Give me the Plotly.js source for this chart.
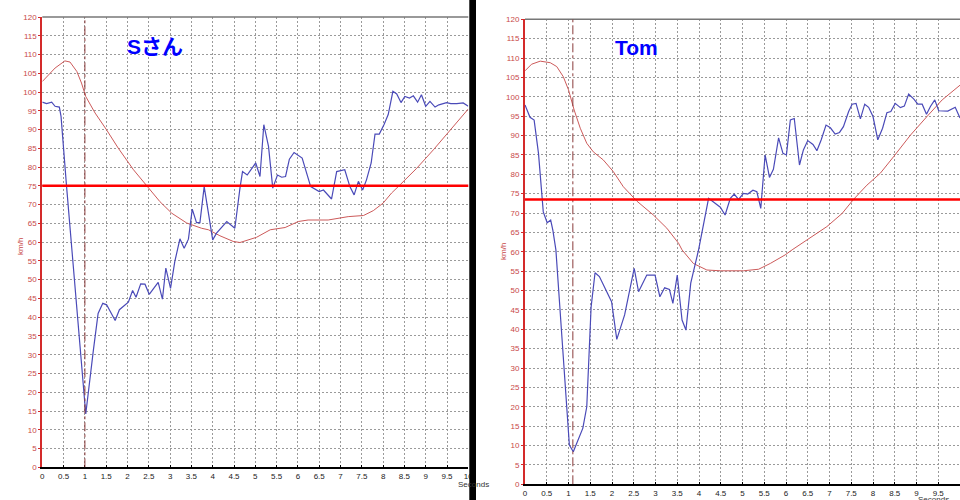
<!DOCTYPE html>
<html>
<head>
<meta charset="utf-8">
<script src="https://cdn.plot.ly/plotly-3.0.1.min.js"></script>
<style>html,body{margin:0;padding:0;background:#fff;}#chart{width:960px;height:500px;}</style>
</head>
<body>
<div id="chart"></div>
<script>
// ---- Data ----
const panelTitles = ["Sさん", "Tom"];

const sanTime = [0,0.1,0.22,0.3,0.4,0.44,0.57,0.69,0.885,1.02,1.2,1.31,1.42,1.51,1.71,1.81,2.02,2.12,2.2,2.31,2.41,2.51,2.72,2.82,2.9,3.01,3.11,3.23,3.33,3.43,3.52,3.62,3.7,3.8,4.0,4.09,4.33,4.52,4.64,4.7,4.81,5.01,5.11,5.2,5.31,5.41,5.52,5.62,5.71,5.8,5.91,6.1,6.3,6.5,6.6,6.79,6.91,7.1,7.22,7.32,7.42,7.52,7.61,7.72,7.81,7.91,8.02,8.12,8.23,8.32,8.42,8.51,8.62,8.71,8.81,8.9,9.0,9.1,9.22,9.31,9.49,9.59,9.73,9.88,10];
const sanSpeed = [97.3,96.9,97.3,96.2,96.0,93.5,74.8,58,31.3,14.2,31.3,41,43.7,43.3,39.1,42,44,47.1,45.3,48.9,48.8,46.1,49.3,44.8,53.1,47.7,54.8,60.9,58.4,60.8,68.8,65.2,65.2,74.8,60.6,62.4,65.5,63.7,74.4,78.8,77.9,81.1,77.5,91.3,85.5,74.4,77.9,77.3,77.5,82.1,83.9,82.4,74.8,73.5,73.9,71.5,78.8,79.3,74.8,72.6,76.2,73.9,76.6,81.1,88.8,88.8,91.3,94,100.2,99.5,97.2,98.8,98.4,99,97.3,99.3,96.2,97.5,96,96.6,97.2,96.9,96.9,97.1,96.2];

const sanRefTime = [0,0.3,0.53,0.65,0.81,0.92,1.02,1.24,1.51,1.78,2.14,2.49,2.76,3.04,3.39,3.74,3.9,4.17,4.48,4.64,5.03,5.35,5.7,6.01,6.24,6.71,7.18,7.54,7.77,8.0,8.2,8.4,8.79,9.18,9.57,10];
const sanRefSpeed = [102.8,106.4,108.3,108,105.5,102.4,98.8,94.4,89.9,85.1,79.3,74.4,70.8,67.7,65.1,63.7,63.3,61.7,60.2,59.9,61.3,63.3,63.9,65.5,65.9,65.9,66.8,67.1,68.4,70.4,73.1,75.3,79.7,84.6,89.7,95.5];

const tomTime = [0,0.115,0.21,0.31,0.42,0.51,0.59,0.64,0.71,1.02,1.11,1.33,1.42,1.52,1.61,1.71,1.99,2.11,2.29,2.51,2.61,2.8,2.99,3.1,3.21,3.32,3.4,3.5,3.61,3.7,3.81,3.91,3.99,4.22,4.49,4.6,4.72,4.81,4.91,5.02,5.12,5.24,5.33,5.42,5.52,5.62,5.71,5.83,5.93,6.01,6.1,6.19,6.31,6.4,6.5,6.62,6.71,6.81,6.92,7.02,7.13,7.23,7.32,7.44,7.52,7.61,7.71,7.81,7.9,8.0,8.11,8.22,8.32,8.41,8.51,8.63,8.72,8.82,8.94,9.03,9.13,9.23,9.32,9.42,9.51,9.72,9.89,10];
const tomSpeed = [97.9,94.7,94,85.4,70.3,67.5,68.2,65.6,60.5,10.1,8.4,14.5,20,45.8,54.6,53.6,47.1,37.4,43.7,55.7,49.7,54,54,48.4,50.7,50.3,46.7,54,42.4,39.8,51.9,56.6,60.5,73.8,71.5,69.5,73.8,74.9,73.5,75.1,74.9,75.9,75.5,71.2,85,79.2,81.3,89.4,85.4,85,94,94.4,82.4,86.3,88.7,87.7,86.1,88.9,92.7,92,90.4,90.8,92.3,96.2,98.1,98.3,94.3,98.1,97.3,94.9,88.9,91.9,95.9,96.2,98.3,97.2,97.6,100.7,99.4,98.1,98.1,95.5,97.5,99.2,96.4,96.3,97.3,94.5];

const tomRefTime = [0,0.15,0.35,0.58,0.73,0.88,1.0,1.13,1.27,1.42,1.57,1.8,2.03,2.26,2.57,2.95,3.26,3.53,3.61,3.87,4.18,4.49,5.02,5.37,5.64,5.98,6.14,6.48,6.94,7.29,7.55,7.86,8.17,8.47,8.86,9.24,9.59,10];
const tomRefSpeed = [106.7,108.4,109.2,108.8,107.8,105.2,101.8,96.6,91.9,88,85.8,83.7,80.7,76.8,73.1,69.5,66.1,62.2,60.5,57,55.3,55.1,55.1,55.5,57,59.2,60.5,63,66.5,69.9,73.5,77.2,80.3,84.5,90.1,94.9,99.2,103];

const limits = [75, 73.5];        // horizontal red lines (km/h)
const markTimes = [1, 1.1];       // vertical dash-dot markers (s)
const xTickVals = [0,0.5,1,1.5,2,2.5,3,3.5,4,4.5,5,5.5,6,6.5,7,7.5,8,8.5,9,9.5,10];
const xTickText = ["0","0.5","1","1.5","2","2.5","3","3.5","4","4.5","5","5.5","6","6.5","7","7.5","8","8.5","9","9.5","10"];
const yTickVals = [0,5,10,15,20,25,30,35,40,45,50,55,60,65,70,75,80,85,90,95,100,105,110,115,120];

// ---- Styling ----
const BLUE = '#4a4ab8', REFRED = '#cc5a5a', AXRED = '#d42a2a';
const tickFont = {family: 'Liberation Sans, Arial, sans-serif', size: 8};

function xAxis(domain) {
  return {domain: domain, range: [0, 10], tickvals: xTickVals, ticktext: xTickText,
    showgrid: true, gridcolor: '#9a9a9a', griddash: '2px,2px', gridwidth: 1,
    showline: true, linecolor: '#000', linewidth: 2, ticks: 'inside', ticklen: 2,
    tickcolor: '#000', tickfont: Object.assign({color: '#222'}, tickFont),
    zeroline: false, fixedrange: true};
}
function yAxis(domain, anchor) {
  return {domain: domain, anchor: anchor, range: [0, 120], tickvals: yTickVals,
    showgrid: true, gridcolor: '#9a9a9a', griddash: '2px,2px', gridwidth: 1,
    showline: true, linecolor: AXRED, linewidth: 2, ticks: 'outside', ticklen: 2,
    tickcolor: AXRED, tickfont: Object.assign({color: '#c84848'}, tickFont),
    zeroline: false, fixedrange: true};
}

const traces = [
  {x: sanRefTime, y: sanRefSpeed, xaxis: 'x', yaxis: 'y', mode: 'lines', line: {color: REFRED, width: 1}},
  {x: sanTime, y: sanSpeed, xaxis: 'x', yaxis: 'y', mode: 'lines', line: {color: BLUE, width: 1.2}},
  {x: tomRefTime, y: tomRefSpeed, xaxis: 'x2', yaxis: 'y2', mode: 'lines', line: {color: REFRED, width: 1}},
  {x: tomTime, y: tomSpeed, xaxis: 'x2', yaxis: 'y2', mode: 'lines', line: {color: BLUE, width: 1.2}}
];

const shapes = [];
[['x','y'],['x2','y2']].forEach(function(ax, i) {
  shapes.push({type: 'line', xref: ax[0] + ' domain', yref: ax[1] + ' domain', x0: 0, x1: 1, y0: 1, y1: 1,
    line: {color: '#777', width: 1.5}});
  shapes.push({type: 'line', xref: ax[0], yref: ax[1], x0: markTimes[i], x1: markTimes[i], y0: 0, y1: 120,
    line: {color: '#8a3a3a', width: 1, dash: 'dashdot'}});
  shapes.push({type: 'line', xref: ax[0] + ' domain', yref: ax[1], x0: 0, x1: 1, y0: limits[i], y1: limits[i],
    line: {color: '#ff0000', width: 2.5}});
});
shapes.push({type: 'rect', xref: 'paper', yref: 'paper', x0: 469.3/960, x1: 476/960, y0: 0, y1: 1,
  fillcolor: '#000', line: {width: 0}, layer: 'above'});

const titleFont = {family: 'Liberation Sans, Noto Sans CJK JP, sans-serif', size: 21, color: '#0000ff', weight: 'bold'};
const small = {family: 'Liberation Sans, Arial, sans-serif', size: 8};
const annotations = [
  {text: '<b>' + panelTitles[0] + '</b>', xref: 'paper', yref: 'paper', x: 155/960, y: 1 - 47/500, showarrow: false, font: titleFont, xanchor: 'center', yanchor: 'middle'},
  {text: '<b>' + panelTitles[1] + '</b>', xref: 'paper', yref: 'paper', x: 636/960, y: 1 - 48/500, showarrow: false, font: titleFont, xanchor: 'center', yanchor: 'middle'},
  {text: 'km/h', textangle: -90, xref: 'paper', yref: 'paper', x: 20/960, y: 1 - 247/500, showarrow: false, xanchor: 'center', yanchor: 'middle', font: Object.assign({color: '#c84848'}, small)},
  {text: 'km/h', textangle: -90, xref: 'paper', yref: 'paper', x: 503/960, y: 1 - 252/500, showarrow: false, xanchor: 'center', yanchor: 'middle', font: Object.assign({color: '#c84848'}, small)},
  {text: 'Seconds', xref: 'paper', yref: 'paper', x: 456/960, y: 1 - 484/500, showarrow: false, xanchor: 'left', yanchor: 'middle', font: Object.assign({color: '#333'}, small)},
  {text: 'Seconds', xref: 'paper', yref: 'paper', x: 916/960, y: 1 - 499.5/500, showarrow: false, xanchor: 'left', yanchor: 'middle', font: Object.assign({color: '#333'}, small)}
];

const layout = {
  width: 960, height: 500, margin: {l: 0, r: 0, t: 0, b: 0},
  paper_bgcolor: '#fff', plot_bgcolor: '#fff', showlegend: false,
  xaxis: Object.assign(xAxis([42.3/960, 468.3/960]), {anchor: 'y'}),
  yaxis: yAxis([1 - 467.3/500, 1 - 17/500], 'x'),
  xaxis2: Object.assign(xAxis([525/960, 1]), {anchor: 'y2'}),
  yaxis2: yAxis([1 - 484.3/500, 1 - 19.3/500], 'x2'),
  shapes: shapes, annotations: annotations
};

Plotly.newPlot('chart', traces, layout, {staticPlot: true, displayModeBar: false});
</script>
</body>
</html>
